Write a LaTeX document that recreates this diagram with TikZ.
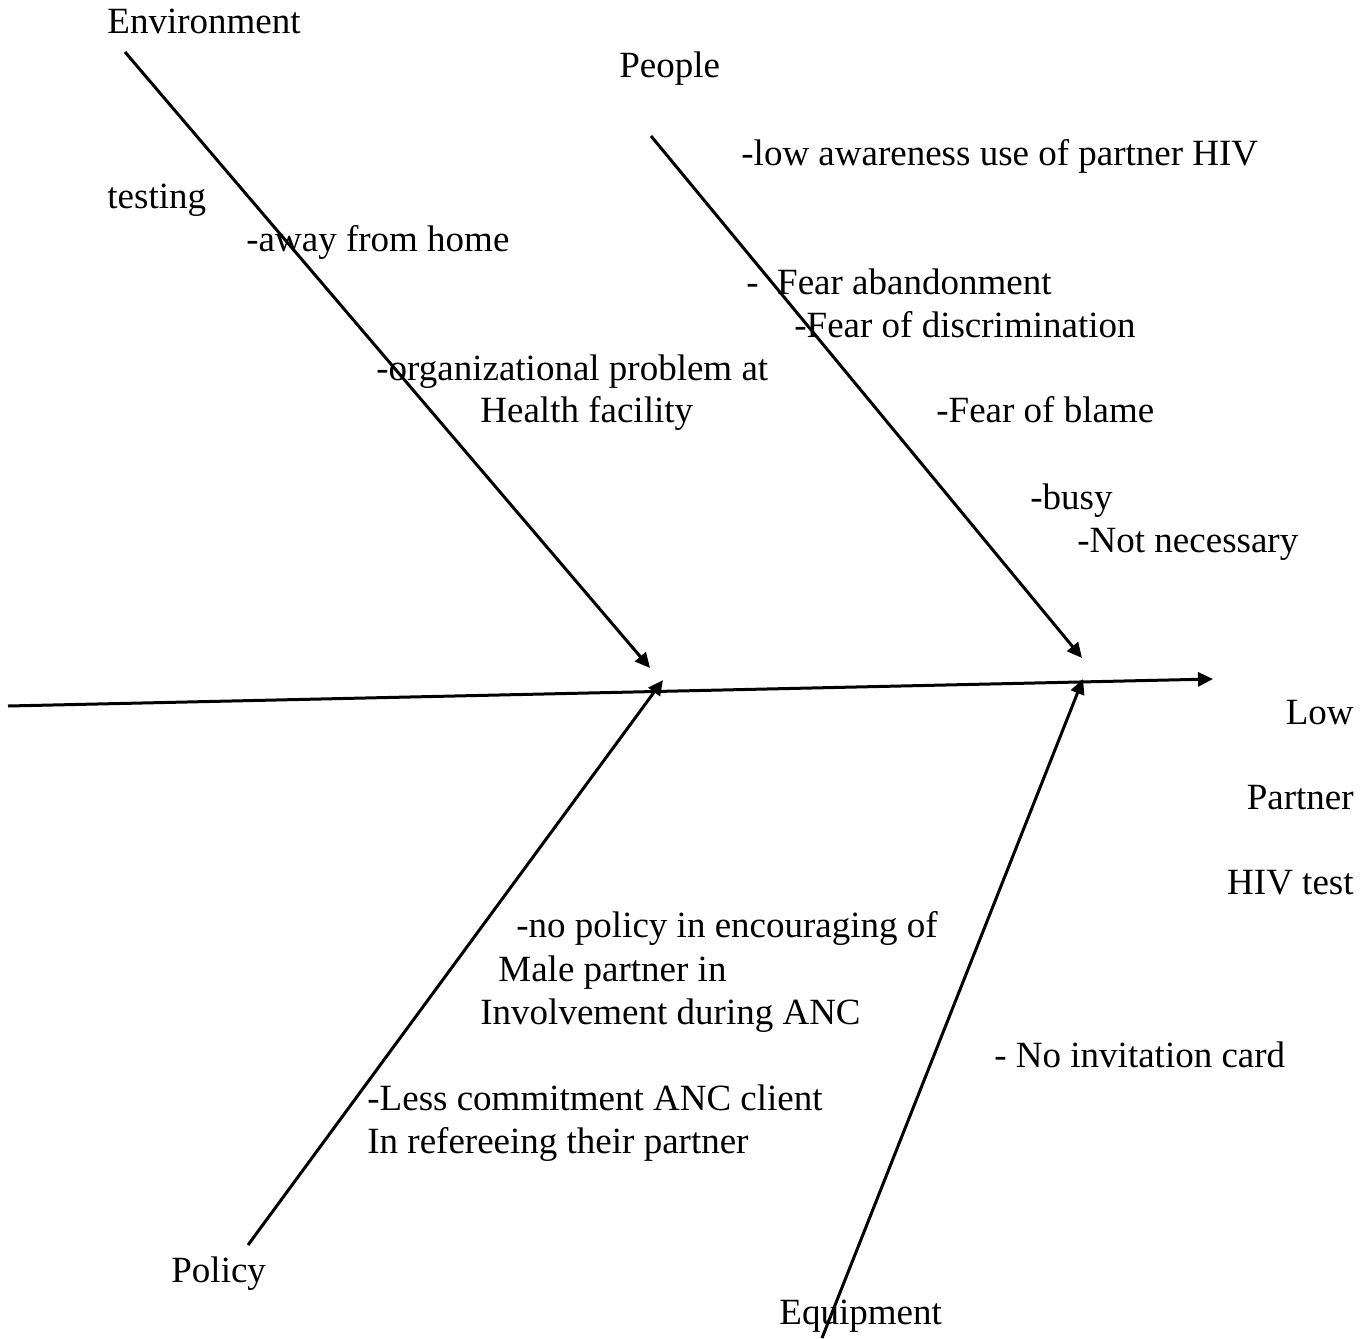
\documentclass[tikz,border=0pt]{standalone}
\usepackage{fontspec}
\setmainfont{Liberation Serif}
\usetikzlibrary{arrows.meta}
\begin{document}
\begin{tikzpicture}[x=0.5pt,y=-0.5pt,
  lbl/.style={anchor=base west,inner sep=0pt,font=\fontsize{18.5}{22}\selectfont},
  rlbl/.style={anchor=base east,inner sep=0pt,font=\fontsize{18.5}{22}\selectfont},
  bone/.style={line width=1.5pt,-{Triangle[length=7.5pt,width=7pt]}}]
\useasboundingbox (0,0) rectangle (1368,1338);
% coordinates
\coordinate (spineS) at (8,706);
\coordinate (spineE) at (1213,679);
\coordinate (envS) at (125,52);
\coordinate (envE) at (650,668);
\coordinate (polS) at (248,1245);
\coordinate (polE) at (663,680);
\coordinate (peoS) at (651,136);
\coordinate (peoE) at (1082,658);
\coordinate (equS) at (822,1338);
\coordinate (equE) at (1083,679);
% bones
\draw[bone] (spineS) -- (spineE);
\draw[bone] (envS) -- (envE);
\draw[bone] (polS) -- (polE);
\draw[bone] (peoS) -- (peoE);
\draw[bone] (equS) -- (equE);
% labels
\node[lbl] (env) at (107,34) {Environment};
\node[lbl] (peo) at (619,78) {People};
\node[lbl] (p1) at (741,165) {-low awareness use of partner HIV};
\node[lbl] (e0) at (107,208) {testing};
\node[lbl] (e1) at (246,251) {-away from home};
\node[lbl] (p2) at (746,294) {-\ \ Fear abandonment};
\node[lbl] (p3) at (794,337) {-Fear of discrimination};
\node[lbl] (e2) at (376,380) {-organizational problem at};
\node[lbl] (e3) at (480,422) {Health facility};
\node[lbl] (p4) at (936,422) {-Fear of blame};
\node[lbl] (p5) at (1030,509) {-busy};
\node[lbl] (p6) at (1077,552) {-Not necessary};
\node[rlbl] (r1) at (1354,724) {Low};
\node[rlbl] (r2) at (1354,809) {Partner};
\node[rlbl] (r3) at (1354,894) {HIV test};
\node[lbl] (o1) at (516,937) {-no policy in encouraging of};
\node[lbl] (o2) at (498,981) {Male partner in};
\node[lbl] (o3) at (480,1024) {Involvement during ANC};
\node[lbl] (q1) at (994,1067) {- No invitation card};
\node[lbl] (o4) at (367,1110) {-Less commitment ANC client};
\node[lbl] (o5) at (367,1153) {In refereeing their partner};
\node[lbl] (pol) at (171,1282) {Policy};
\node[lbl] (equ) at (779,1324) {Equipment};
\end{tikzpicture}
\end{document}
